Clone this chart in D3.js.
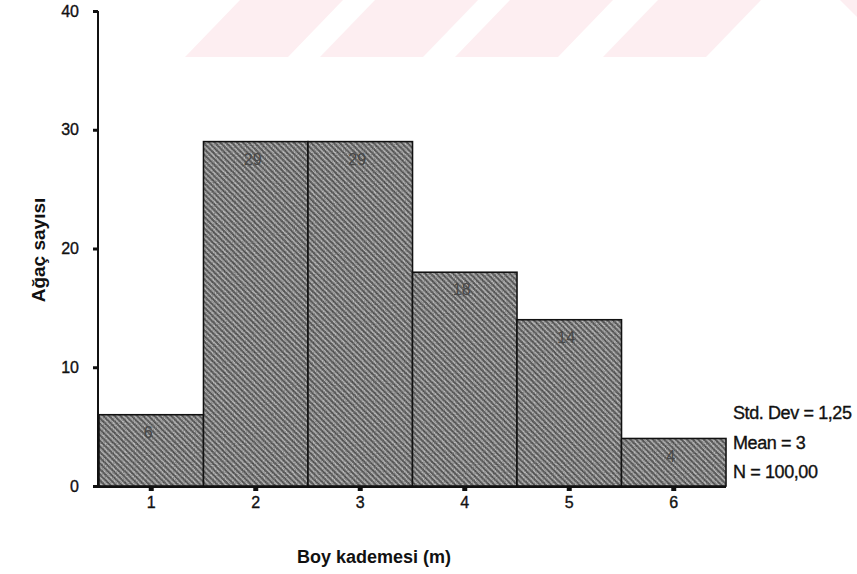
<!DOCTYPE html>
<html lang="tr">
<head>
<meta charset="utf-8">
<title>Boy kademesi histogram</title>
<script src="https://cdn.jsdelivr.net/npm/d3@7"></script>
<style>
  body { margin: 0; background: #fff; }
  svg text { font-family: "Liberation Sans", Arial, sans-serif; fill: #111; }
  .ink { stroke: #111; stroke-width: 0.35px; }
</style>
</head>
<body>
<script>
// data
var categories = ["1", "2", "3", "4", "5", "6"];
var counts = [6, 29, 29, 18, 14, 4];
var yTicks = [0, 10, 20, 30, 40];
var stats = ["Std. Dev = 1,25", "Mean = 3", "N = 100,00"];

var w = 857, h = 574;
var mLeft = 99, mRight = 726, mTop = 11, mBottom = 486;

var svg = d3.select("body").append("svg")
  .attr("width", w)
  .attr("height", h);

// hatch fill like the scanned SPSS bars
var defs = svg.append("defs");
var pat = defs.append("pattern")
  .attr("id", "hatch")
  .attr("patternUnits", "userSpaceOnUse")
  .attr("width", 4)
  .attr("height", 4)
  .attr("patternTransform", "rotate(-45)");
pat.append("rect").attr("width", 4).attr("height", 4).attr("fill", "#696969");
pat.append("line")
  .attr("x1", 1).attr("y1", 0).attr("x2", 1).attr("y2", 4)
  .attr("stroke", "#e4e4e4").attr("stroke-width", 1.3);

var noise = defs.append("filter").attr("id", "grain");
noise.append("feTurbulence")
  .attr("type", "fractalNoise").attr("baseFrequency", 0.9)
  .attr("numOctaves", 1).attr("seed", 3).attr("result", "n");
noise.append("feColorMatrix").attr("in", "n").attr("type", "matrix")
  .attr("values", "0 0 0 0 0  0 0 0 0 0  0 0 0 0 0  0 0 0 -1.6 1.1")
  .attr("result", "a");
noise.append("feComposite").attr("in", "a").attr("in2", "SourceGraphic").attr("operator", "in");

// faint watermark band at the top
var wm = [185, 320, 455, 603];
svg.append("g").selectAll("path")
  .data(wm)
  .enter()
  .append("path")
  .attr("d", function(d) {
    return "M" + d + ",57L" + (d + 103) + ",57L" + (d + 158) + ",0L" + (d + 55) + ",0Z";
  })
  .attr("fill", "#fdeef1");
svg.append("path").attr("d", "M840,0L857,0L857,17Z").attr("fill", "#fdeef1");

var xScale = d3.scaleBand()
  .domain(categories)
  .range([mLeft, mRight])
  .padding(0);

var yScale = d3.scaleLinear()
  .domain([0, 40])
  .range([mBottom, mTop]);

// bars
var bars = svg.append("g");
bars.selectAll("rect.bar")
  .data(counts)
  .enter()
  .append("rect")
  .attr("class", "bar")
  .attr("x", function(d, i) { return xScale(categories[i]); })
  .attr("y", function(d) { return yScale(d); })
  .attr("width", xScale.bandwidth())
  .attr("height", function(d) { return yScale(0) - yScale(d); })
  .attr("fill", "url(#hatch)")
  .attr("stroke", "#111")
  .attr("stroke-width", 1.6);

bars.selectAll("rect.grain")
  .data(counts)
  .enter()
  .append("rect")
  .attr("class", "grain")
  .attr("x", function(d, i) { return xScale(categories[i]) + 1; })
  .attr("y", function(d) { return yScale(d) + 1; })
  .attr("width", xScale.bandwidth() - 2)
  .attr("height", function(d) { return yScale(0) - yScale(d) - 2; })
  .attr("fill", "#8a8a8a")
  .attr("opacity", 0.4)
  .attr("filter", "url(#grain)");

// value labels inside the bars
svg.selectAll("text.val")
  .data(counts)
  .enter()
  .append("text")
  .attr("class", "val")
  .text(function(d) { return d; })
  .attr("x", function(d, i) { return xScale(categories[i]) + xScale.bandwidth() / 2 - 3; })
  .attr("y", function(d) { return yScale(d) + 23; })
  .attr("text-anchor", "middle")
  .attr("font-size", "16px")
  .style("fill", "#484848");

// y axis
var yAxis = d3.axisLeft(yScale)
  .tickValues(yTicks)
  .tickSize(5)
  .tickPadding(14);
var gy = svg.append("g")
  .attr("transform", "translate(" + (mLeft - 1) + ",0)")
  .call(yAxis);
gy.select(".domain").attr("stroke", "#111").attr("stroke-width", 2).attr("d", "M0," + mTop + "V" + (mBottom + 1));
gy.selectAll(".tick line").attr("stroke", "#111").attr("stroke-width", 3);
gy.selectAll(".tick text").attr("class", "ink").attr("font-size", "16px").attr("font-family", null).style("fill", "#111");

// x axis
var xAxis = d3.axisBottom(xScale)
  .tickSize(4)
  .tickPadding(6);
var gx = svg.append("g")
  .attr("transform", "translate(0," + (mBottom + 1) + ")")
  .call(xAxis);
gx.select(".domain").attr("stroke", "#111").attr("stroke-width", 2).attr("d", "M" + (mLeft - 3) + ",0H" + mRight);
gx.selectAll(".tick line").attr("stroke", "#111").attr("stroke-width", 5);
gx.selectAll(".tick text").attr("class", "ink").attr("font-size", "16px").attr("font-family", null).style("fill", "#111");

// axis titles
svg.append("text")
  .attr("transform", "translate(45,250) rotate(-90)")
  .attr("text-anchor", "middle")
  .attr("font-size", "19px")
  .attr("font-weight", "bold")
  .text("Ağaç sayısı");

svg.append("text")
  .attr("x", 374)
  .attr("y", 563)
  .attr("text-anchor", "middle")
  .attr("font-size", "18px")
  .attr("font-weight", "bold")
  .text("Boy kademesi (m)");

// summary statistics
svg.selectAll("text.stat")
  .data(stats)
  .enter()
  .append("text")
  .attr("class", "stat ink")
  .attr("x", 733)
  .attr("y", function(d, i) { return 419 + i * 29.5; })
  .attr("font-size", "18px")
  .attr("letter-spacing", "-0.4px")
  .text(function(d) { return d; });
</script>
</body>
</html>
